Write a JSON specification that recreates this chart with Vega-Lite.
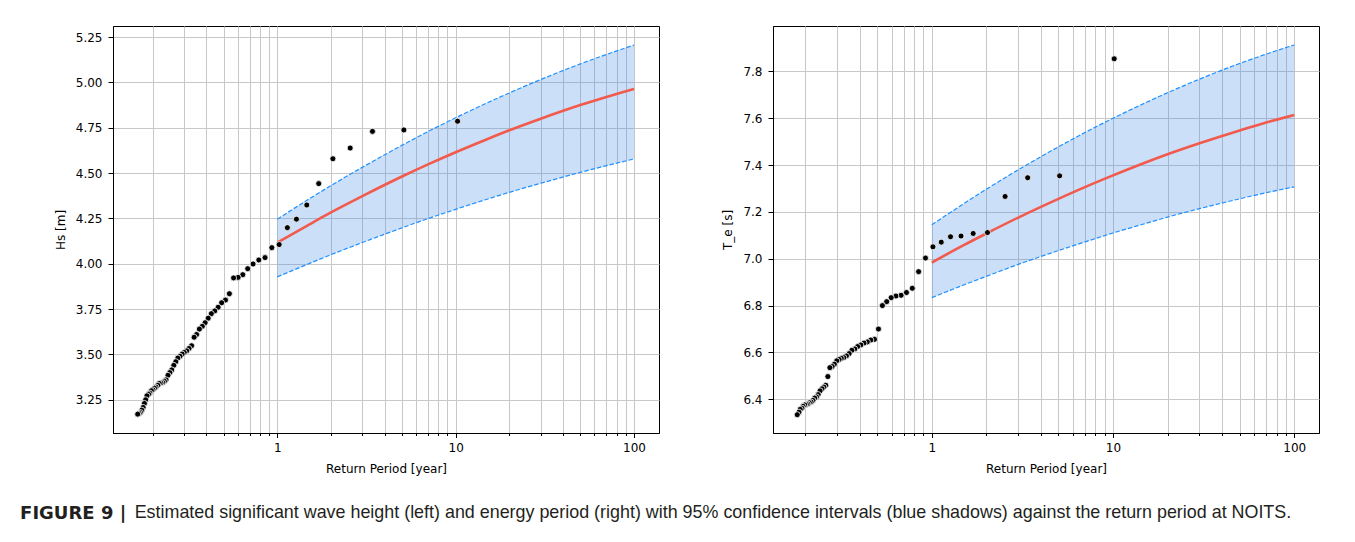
{
  "$schema": "https://vega.github.io/schema/vega-lite/v6.json",
  "background": "white",
  "padding": {"left": 20, "top": 25, "right": 10, "bottom": 10},
  "config": {
    "view": {"stroke": "#000000", "strokeWidth": 1},
    "axis": {
      "labelFont": "DejaVu Sans", "titleFont": "DejaVu Sans",
      "labelFontSize": 12, "titleFontSize": 12,
      "labelColor": "#000000", "titleColor": "#000000", "titleFontWeight": "normal",
      "domainColor": "#000000", "tickColor": "#000000", "domainWidth": 1,
      "gridColor": "#c8c8c8", "gridWidth": 1, "gridOpacity": 1,
      "labelOverlap": false, "labelFlush": false
    }
  },
  "datasets": {
    "hsObs": [
      {"T": 10.25, "Hs": 4.786}, {"T": 5.125, "Hs": 4.738}, {"T": 3.417, "Hs": 4.730}, {"T": 2.563, "Hs": 4.638},
      {"T": 2.05, "Hs": 4.579}, {"T": 1.708, "Hs": 4.442}, {"T": 1.464, "Hs": 4.324}, {"T": 1.281, "Hs": 4.246},
      {"T": 1.139, "Hs": 4.199}, {"T": 1.025, "Hs": 4.106}, {"T": 0.932, "Hs": 4.089}, {"T": 0.854, "Hs": 4.034},
      {"T": 0.788, "Hs": 4.021}, {"T": 0.732, "Hs": 3.999}, {"T": 0.683, "Hs": 3.973}, {"T": 0.641, "Hs": 3.940},
      {"T": 0.603, "Hs": 3.925}, {"T": 0.569, "Hs": 3.922}, {"T": 0.539, "Hs": 3.835}, {"T": 0.5125, "Hs": 3.800},
      {"T": 0.488, "Hs": 3.785}, {"T": 0.466, "Hs": 3.760}, {"T": 0.446, "Hs": 3.740}, {"T": 0.427, "Hs": 3.725},
      {"T": 0.41, "Hs": 3.700}, {"T": 0.394, "Hs": 3.675}, {"T": 0.380, "Hs": 3.655}, {"T": 0.366, "Hs": 3.640},
      {"T": 0.353, "Hs": 3.610}, {"T": 0.342, "Hs": 3.595}, {"T": 0.331, "Hs": 3.548}, {"T": 0.320, "Hs": 3.533},
      {"T": 0.311, "Hs": 3.520}, {"T": 0.301, "Hs": 3.511}, {"T": 0.293, "Hs": 3.502}, {"T": 0.285, "Hs": 3.490},
      {"T": 0.277, "Hs": 3.480}, {"T": 0.270, "Hs": 3.460}, {"T": 0.263, "Hs": 3.440}, {"T": 0.256, "Hs": 3.415},
      {"T": 0.250, "Hs": 3.400}, {"T": 0.244, "Hs": 3.385}, {"T": 0.238, "Hs": 3.360}, {"T": 0.233, "Hs": 3.352},
      {"T": 0.228, "Hs": 3.345}, {"T": 0.223, "Hs": 3.342}, {"T": 0.218, "Hs": 3.340}, {"T": 0.214, "Hs": 3.330},
      {"T": 0.209, "Hs": 3.320}, {"T": 0.205, "Hs": 3.314}, {"T": 0.201, "Hs": 3.305}, {"T": 0.197, "Hs": 3.300},
      {"T": 0.193, "Hs": 3.287}, {"T": 0.190, "Hs": 3.280}, {"T": 0.186, "Hs": 3.272}, {"T": 0.183, "Hs": 3.250},
      {"T": 0.180, "Hs": 3.230}, {"T": 0.177, "Hs": 3.208}, {"T": 0.174, "Hs": 3.193}, {"T": 0.171, "Hs": 3.180},
      {"T": 0.168, "Hs": 3.175}, {"T": 0.165, "Hs": 3.171}
    ],
    "hsFit": [
      {"T": 1, "fit": 4.117, "lower": 3.928, "upper": 4.246},
      {"T": 1.5, "fit": 4.215, "lower": 4.000, "upper": 4.356},
      {"T": 2, "fit": 4.283, "lower": 4.050, "upper": 4.431},
      {"T": 3, "fit": 4.373, "lower": 4.117, "upper": 4.532},
      {"T": 5, "fit": 4.481, "lower": 4.198, "upper": 4.653},
      {"T": 7, "fit": 4.548, "lower": 4.249, "upper": 4.729},
      {"T": 10, "fit": 4.615, "lower": 4.300, "upper": 4.805},
      {"T": 15, "fit": 4.687, "lower": 4.356, "upper": 4.887},
      {"T": 20, "fit": 4.736, "lower": 4.394, "upper": 4.942},
      {"T": 30, "fit": 4.800, "lower": 4.444, "upper": 5.016},
      {"T": 50, "fit": 4.875, "lower": 4.504, "upper": 5.102},
      {"T": 70, "fit": 4.920, "lower": 4.541, "upper": 5.154},
      {"T": 100, "fit": 4.964, "lower": 4.578, "upper": 5.206}
    ],
    "teObs": [
      {"T": 10.15, "Te": 7.854}, {"T": 5.075, "Te": 7.354}, {"T": 3.383, "Te": 7.346}, {"T": 2.538, "Te": 7.266},
      {"T": 2.03, "Te": 7.112}, {"T": 1.692, "Te": 7.108}, {"T": 1.45, "Te": 7.097}, {"T": 1.269, "Te": 7.094},
      {"T": 1.128, "Te": 7.071}, {"T": 1.015, "Te": 7.051}, {"T": 0.923, "Te": 7.003}, {"T": 0.846, "Te": 6.945},
      {"T": 0.781, "Te": 6.874}, {"T": 0.725, "Te": 6.856}, {"T": 0.677, "Te": 6.844}, {"T": 0.634, "Te": 6.841},
      {"T": 0.597, "Te": 6.834}, {"T": 0.564, "Te": 6.817}, {"T": 0.534, "Te": 6.800}, {"T": 0.508, "Te": 6.700},
      {"T": 0.483, "Te": 6.656}, {"T": 0.461, "Te": 6.653}, {"T": 0.441, "Te": 6.645}, {"T": 0.423, "Te": 6.640},
      {"T": 0.406, "Te": 6.632}, {"T": 0.390, "Te": 6.625}, {"T": 0.376, "Te": 6.615}, {"T": 0.3625, "Te": 6.609},
      {"T": 0.350, "Te": 6.595}, {"T": 0.338, "Te": 6.585}, {"T": 0.327, "Te": 6.578}, {"T": 0.317, "Te": 6.575},
      {"T": 0.308, "Te": 6.570}, {"T": 0.299, "Te": 6.564}, {"T": 0.290, "Te": 6.550}, {"T": 0.282, "Te": 6.540},
      {"T": 0.274, "Te": 6.535}, {"T": 0.267, "Te": 6.497}, {"T": 0.260, "Te": 6.460}, {"T": 0.254, "Te": 6.452},
      {"T": 0.248, "Te": 6.445}, {"T": 0.242, "Te": 6.436}, {"T": 0.236, "Te": 6.420}, {"T": 0.231, "Te": 6.410},
      {"T": 0.226, "Te": 6.405}, {"T": 0.221, "Te": 6.395}, {"T": 0.216, "Te": 6.388}, {"T": 0.211, "Te": 6.385},
      {"T": 0.207, "Te": 6.380}, {"T": 0.203, "Te": 6.378}, {"T": 0.199, "Te": 6.376}, {"T": 0.195, "Te": 6.370},
      {"T": 0.192, "Te": 6.362}, {"T": 0.188, "Te": 6.357}, {"T": 0.185, "Te": 6.345}, {"T": 0.181, "Te": 6.334}
    ],
    "teFit": [
      {"T": 1, "fit": 6.984, "lower": 6.834, "upper": 7.145},
      {"T": 1.5, "fit": 7.058, "lower": 6.888, "upper": 7.235},
      {"T": 2, "fit": 7.108, "lower": 6.925, "upper": 7.297},
      {"T": 3, "fit": 7.176, "lower": 6.976, "upper": 7.380},
      {"T": 5, "fit": 7.256, "lower": 7.035, "upper": 7.478},
      {"T": 7, "fit": 7.306, "lower": 7.072, "upper": 7.539},
      {"T": 10, "fit": 7.356, "lower": 7.110, "upper": 7.600},
      {"T": 15, "fit": 7.410, "lower": 7.150, "upper": 7.665},
      {"T": 20, "fit": 7.446, "lower": 7.178, "upper": 7.709},
      {"T": 30, "fit": 7.493, "lower": 7.214, "upper": 7.767},
      {"T": 50, "fit": 7.548, "lower": 7.256, "upper": 7.834},
      {"T": 70, "fit": 7.582, "lower": 7.282, "upper": 7.874},
      {"T": 100, "fit": 7.614, "lower": 7.307, "upper": 7.913}
    ]
  },
  "title": {
    "text": "Estimated significant wave height (left) and energy period (right) with 95% confidence intervals (blue shadows) against the return period at NOITS.",
    "orient": "bottom", "anchor": "start", "font": "Liberation Sans", "fontSize": 17.9,
    "fontWeight": "normal", "color": "#231f20", "dx": 114.6, "dy": -18.5, "offset": 0
  },
  "vconcat": [
    {
      "title": {
        "text": "FIGURE 9 |", "orient": "bottom", "anchor": "start", "font": "DejaVu Sans",
        "fontSize": 18, "fontWeight": "bold", "color": "#231f20", "offset": 29.5, "dx": -33.7
      },
      "spacing": 61,
      "hconcat": [
        {
          "width": 546, "height": 407,
          "encoding": {
            "x": {
              "field": "T", "type": "quantitative",
              "scale": {"type": "log", "domain": [0.12, 138], "nice": false},
              "axis": {
                "title": "Return Period [year]",
                "values": [0.2, 0.3, 0.4, 0.5, 0.6, 0.7, 0.8, 0.9, 1, 2, 3, 4, 5, 6, 7, 8, 9, 10, 20, 30, 40, 50, 60, 70, 80, 90, 100],
                "labelExpr": "datum.value == 1 || datum.value == 10 || datum.value == 100 ? format(datum.value, 'd') : ''",
                "tickSize": {"condition": {"test": "datum.value == 1 || datum.value == 10 || datum.value == 100", "value": 4.5}, "value": 2.5},
                "labelPadding": 5, "titlePadding": 10
              }
            }
          },
          "layer": [
            {
              "data": {"name": "hsFit"},
              "mark": {"type": "area", "color": "#2f7fe8", "opacity": 0.25, "interpolate": "monotone"},
              "encoding": {
                "y": {
                  "field": "lower", "type": "quantitative", "title": "Hs [m]",
                  "scale": {"domain": [3.067, 5.311], "nice": false, "zero": false},
                  "axis": {"values": [3.25, 3.5, 3.75, 4.0, 4.25, 4.5, 4.75, 5.0, 5.25], "format": ".2f", "tickSize": 5, "labelPadding": 6, "titlePadding": 8}
                },
                "y2": {"field": "upper"}
              }
            },
            {
              "data": {"name": "hsFit"},
              "mark": {"type": "line", "color": "#1e90ff", "strokeWidth": 1.2, "strokeDash": [4.5, 2], "interpolate": "monotone"},
              "encoding": {"y": {"field": "upper", "type": "quantitative", "title": "Hs [m]"}}
            },
            {
              "data": {"name": "hsFit"},
              "mark": {"type": "line", "color": "#1e90ff", "strokeWidth": 1.2, "strokeDash": [4.5, 2], "interpolate": "monotone"},
              "encoding": {"y": {"field": "lower", "type": "quantitative", "title": "Hs [m]"}}
            },
            {
              "data": {"name": "hsFit"},
              "mark": {"type": "line", "color": "#f25a4c", "strokeWidth": 2.6, "interpolate": "monotone"},
              "encoding": {"y": {"field": "fit", "type": "quantitative", "title": "Hs [m]"}}
            },
            {
              "data": {"name": "hsObs"},
              "mark": {"type": "circle", "fill": "#000000", "stroke": "#ffffff", "strokeWidth": 0.8, "size": 36, "opacity": 1},
              "encoding": {"y": {"field": "Hs", "type": "quantitative", "title": "Hs [m]"}}
            }
          ]
        },
        {
          "width": 546, "height": 407,
          "encoding": {
            "x": {
              "field": "T", "type": "quantitative",
              "scale": {"type": "log", "domain": [0.133, 137], "nice": false},
              "axis": {
                "title": "Return Period [year]",
                "values": [0.2, 0.3, 0.4, 0.5, 0.6, 0.7, 0.8, 0.9, 1, 2, 3, 4, 5, 6, 7, 8, 9, 10, 20, 30, 40, 50, 60, 70, 80, 90, 100],
                "labelExpr": "datum.value == 1 || datum.value == 10 || datum.value == 100 ? format(datum.value, 'd') : ''",
                "tickSize": {"condition": {"test": "datum.value == 1 || datum.value == 10 || datum.value == 100", "value": 4.5}, "value": 2.5},
                "labelPadding": 5, "titlePadding": 10
              }
            }
          },
          "layer": [
            {
              "data": {"name": "teFit"},
              "mark": {"type": "area", "color": "#2f7fe8", "opacity": 0.25, "interpolate": "monotone"},
              "encoding": {
                "y": {
                  "field": "lower", "type": "quantitative", "title": "T_e [s]",
                  "scale": {"domain": [6.256, 7.994], "nice": false, "zero": false},
                  "axis": {"values": [6.4, 6.6, 6.8, 7.0, 7.2, 7.4, 7.6, 7.8], "format": ".1f", "tickSize": 5, "labelPadding": 6, "titlePadding": 8}
                },
                "y2": {"field": "upper"}
              }
            },
            {
              "data": {"name": "teFit"},
              "mark": {"type": "line", "color": "#1e90ff", "strokeWidth": 1.2, "strokeDash": [4.5, 2], "interpolate": "monotone"},
              "encoding": {"y": {"field": "upper", "type": "quantitative", "title": "T_e [s]"}}
            },
            {
              "data": {"name": "teFit"},
              "mark": {"type": "line", "color": "#1e90ff", "strokeWidth": 1.2, "strokeDash": [4.5, 2], "interpolate": "monotone"},
              "encoding": {"y": {"field": "lower", "type": "quantitative", "title": "T_e [s]"}}
            },
            {
              "data": {"name": "teFit"},
              "mark": {"type": "line", "color": "#f25a4c", "strokeWidth": 2.6, "interpolate": "monotone"},
              "encoding": {"y": {"field": "fit", "type": "quantitative", "title": "T_e [s]"}}
            },
            {
              "data": {"name": "teObs"},
              "mark": {"type": "circle", "fill": "#000000", "stroke": "#ffffff", "strokeWidth": 0.8, "size": 36, "opacity": 1},
              "encoding": {"y": {"field": "Te", "type": "quantitative", "title": "T_e [s]"}}
            }
          ]
        }
      ]
    }
  ]
}
